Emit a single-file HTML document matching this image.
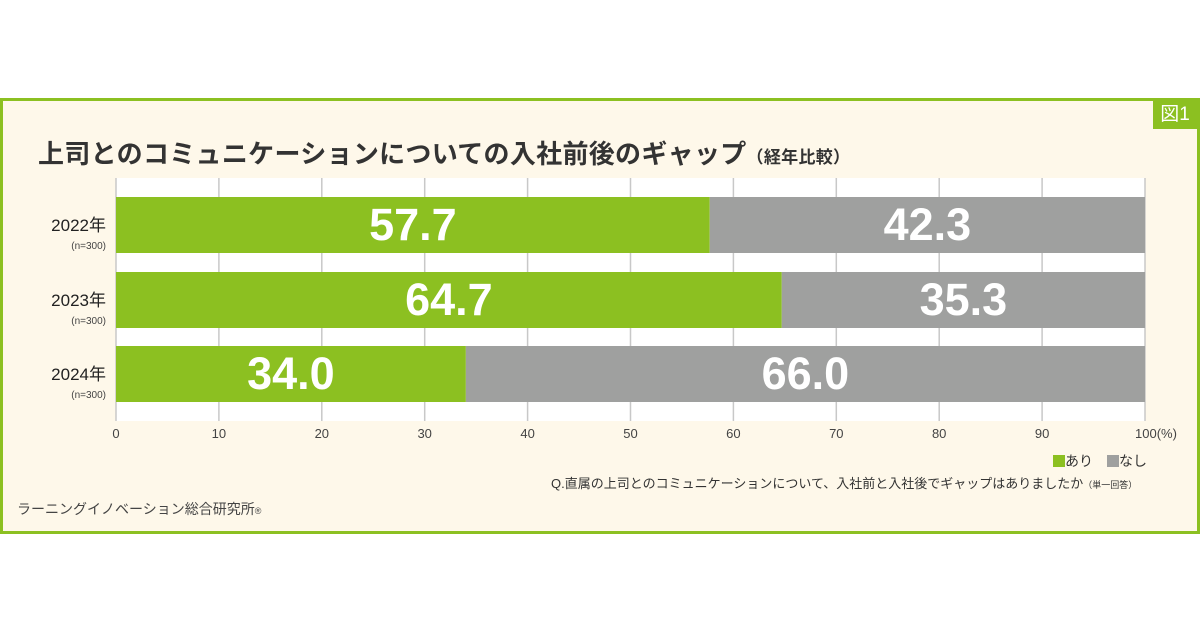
<!DOCTYPE html>
<html><head><meta charset="utf-8"><style>
body{margin:0;width:1200px;height:630px;background:#fff;position:relative;overflow:hidden;font-family:"Liberation Sans","Noto Sans CJK JP",sans-serif}
#panel{position:absolute;left:0;top:98px;width:1194px;height:430px;background:#fef8ea;border:3px solid #8cc021}
#tag{position:absolute;left:1153px;top:100px;width:44px;height:29px;background:#8cc021;color:#fff;font-size:19px;line-height:29px;text-align:center}
#title{position:absolute;left:38px;top:134px;font-size:26px;font-weight:bold;color:#333;white-space:nowrap;letter-spacing:0.3px}
#title small{font-size:17px}
.t{position:absolute;white-space:nowrap;color:#333}
</style></head><body>
<div id="panel"></div>
<div id="tag">図1</div>
<div id="title">上司とのコミュニケーションについての入社前後のギャップ<small>（経年比較）</small></div>
<svg id="chart" width="1200" height="630" style="position:absolute;left:0;top:0"></svg>
<div class="t" style="left:1053px;top:451px;font-size:14px"><span style="display:inline-block;width:12px;height:12px;background:#8cc021;vertical-align:-1px"></span>あり　<span style="display:inline-block;width:12px;height:12px;background:#9fa09f;vertical-align:-1px"></span>なし</div>
<div class="t" style="left:551px;top:473px;font-size:13px">Q.直属の上司とのコミュニケーションについて、入社前と入社後でギャップはありましたか<span style="font-size:9px">（単一回答）</span></div>
<div class="t" style="left:17px;top:499px;font-size:14px;color:#444">ラーニングイノベーション総合研究所<span style="font-size:9px">®</span></div>
<script>
const categories=["2022年","2023年","2024年"];
const sampleSizes=["(n=300)","(n=300)","(n=300)"];
const yesValues=[57.7,64.7,34.0];
const noValues=[42.3,35.3,66.0];
const ticks=[0,10,20,30,40,50,60,70,80,90,100];
const svg=document.getElementById('chart');const NS='http://www.w3.org/2000/svg';
const x0=116,x1=1145;const X=v=>x0+(x1-x0)*v/100;
const barTop=[197,272,346],barH=56;
function mk(t,a){const e=document.createElementNS(NS,t);for(const k in a)e.setAttribute(k,a[k]);svg.appendChild(e);return e;}
const bg=mk('rect',{x:x0,y:178,width:x1-x0,height:243,fill:'#fff'});


ticks.forEach(t=>{const l=mk('line',{x1:X(t),x2:X(t),y1:178,y2:421,stroke:'#c8c8c8','stroke-width':1.5});


const tx=mk('text',{x:X(t),y:438,'font-size':13,fill:'#444','text-anchor':t===100?'start':'middle'});
if(t===100)tx.setAttribute('x',X(t)-10);
tx.textContent=t===100?'100(%)':t;

});
categories.forEach((c,i)=>{const y=barTop[i];
const a=mk('rect',{x:X(0),y:y,width:X(yesValues[i])-X(0),height:barH,fill:'#8cc021'});


const b=mk('rect',{x:X(yesValues[i]),y:y,width:X(yesValues[i]+noValues[i])-X(yesValues[i]),height:barH,fill:'#9fa09f'});


const ta=mk('text',{x:(X(0)+X(yesValues[i]))/2,y:y+43,'font-size':45,'font-weight':'bold',fill:'#fff','text-anchor':'middle'});ta.textContent=yesValues[i].toFixed(1);


const tb=mk('text',{x:(X(yesValues[i])+X(100))/2,y:y+43,'font-size':45,'font-weight':'bold',fill:'#fff','text-anchor':'middle'});tb.textContent=noValues[i].toFixed(1);


const cl=mk('text',{x:106,y:y+34,'font-size':17,fill:'#222','text-anchor':'end'});cl.textContent=c;


const nl=mk('text',{x:106,y:y+52,'font-size':10,fill:'#444','text-anchor':'end'});nl.textContent=sampleSizes[i];

});
</script>
</body></html>
